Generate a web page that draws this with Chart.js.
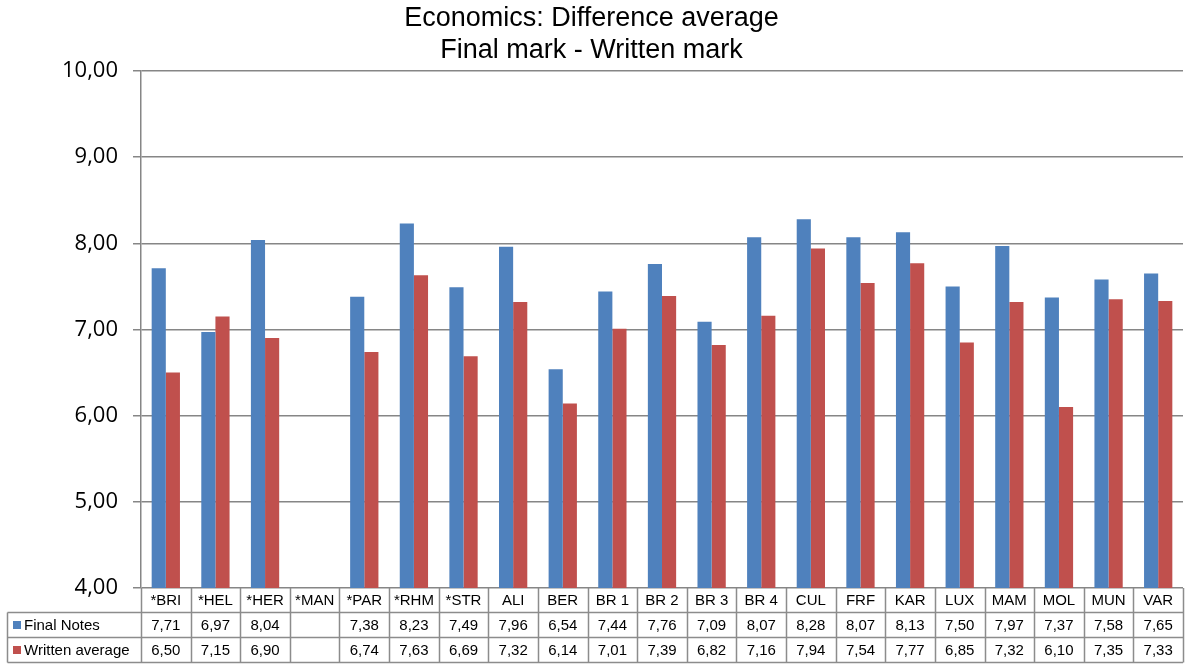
<!DOCTYPE html>
<html>
<head>
<meta charset="utf-8">
<script src="https://cdn.jsdelivr.net/npm/chart.js@4.4.1/dist/chart.umd.min.js"></script>
<style>
html,body{margin:0;padding:0;background:#fff;}
#wrap{width:1185px;height:665px;position:relative;}
</style>
</head>
<body>
<div id="wrap"><canvas id="c" width="1185" height="665"></canvas></div>
<script>
const categories = ["*BRI","*HEL","*HER","*MAN","*PAR","*RHM","*STR","ALI","BER","BR 1","BR 2","BR 3","BR 4","CUL","FRF","KAR","LUX","MAM","MOL","MUN","VAR"];
const finalNotes = [7.71,6.97,8.04,null,7.38,8.23,7.49,7.96,6.54,7.44,7.76,7.09,8.07,8.28,8.07,8.13,7.50,7.97,7.37,7.58,7.65];
const writtenAverage = [6.50,7.15,6.90,null,6.74,7.63,6.69,7.32,6.14,7.01,7.39,6.82,7.16,7.94,7.54,7.77,6.85,7.32,6.10,7.35,7.33];
const seriesNames = ["Final Notes","Written average"];
const titleLines = ["Economics: Difference average","Final mark - Written mark"];

const BLUE = "#4F81BD", RED = "#C0504D", GRID = "#868686";
const fmt = v => v == null ? "" : v.toFixed(2).replace(".", ",");

const tablePlugin = {
  id: "dataTable",
  afterDraw(chart) {
    const ctx = chart.ctx;
    const x = chart.scales.x;
    const area = chart.chartArea;
    const n = categories.length;
    const left = area.left, right = area.right;
    const colW = (right - left) / n;
    const y0 = area.bottom, y1 = 612.5, y2 = 637.5, y3 = 662.5;
    const tableLeft = 7.5;
    ctx.save();
    ctx.strokeStyle = "#8c8c8c";
    ctx.lineWidth = 1.5;
    ctx.beginPath();
    ctx.moveTo(tableLeft, y1); ctx.lineTo(right, y1);
    ctx.moveTo(tableLeft, y2); ctx.lineTo(right, y2);
    ctx.moveTo(tableLeft, y3); ctx.lineTo(right, y3);
    ctx.moveTo(tableLeft, y1); ctx.lineTo(tableLeft, y3);
    for (let i = 0; i <= n; i++) {
      const xx = Math.round(left + i * colW) + 0.5;
      ctx.moveTo(xx, y0); ctx.lineTo(xx, y3);
    }
    ctx.stroke();
    ctx.fillStyle = "#000";
    ctx.font = "15px 'Liberation Sans', Arial, sans-serif";
    ctx.textAlign = "center";
    ctx.textBaseline = "middle";
    for (let i = 0; i < n; i++) {
      const cx = x.getPixelForValue(i);
      ctx.fillText(categories[i], cx, (y0 + y1) / 2 + 1);
      ctx.fillText(fmt(finalNotes[i]), cx, (y1 + y2) / 2 + 1);
      ctx.fillText(fmt(writtenAverage[i]), cx, (y2 + y3) / 2 + 1);
    }
    ctx.textAlign = "left";
    const keys = [[BLUE, seriesNames[0], (y1 + y2) / 2], [RED, seriesNames[1], (y2 + y3) / 2]];
    keys.forEach(([col, label, cy]) => {
      ctx.fillStyle = col;
      ctx.fillRect(13, cy - 4, 8, 8);
      ctx.fillStyle = "#000";
      ctx.fillText(label, 24, cy + 1);
    });
    ctx.restore();
  }
};

new Chart(document.getElementById("c"), {
  type: "bar",
  data: {
    labels: categories,
    datasets: [
      { label: seriesNames[0], data: finalNotes, backgroundColor: BLUE, borderWidth: 0, categoryPercentage: 0.57, barPercentage: 1.0 },
      { label: seriesNames[1], data: writtenAverage, backgroundColor: RED, borderWidth: 0, categoryPercentage: 0.57, barPercentage: 1.0 }
    ]
  },
  options: {
    responsive: false,
    animation: false,
    events: [],
    layout: { padding: { left: 0, right: 2, top: 0, bottom: 77 } },
    plugins: {
      legend: { display: false },
      tooltip: { enabled: false },
      title: {
        display: true,
        text: titleLines,
        color: "#000",
        font: { family: "'Liberation Sans', Arial, sans-serif", size: 27, weight: "normal", lineHeight: "32px" },
        padding: { top: 3, bottom: 4 }
      }
    },
    scales: {
      x: {
        display: false,
        offset: true,
        grid: { display: false }
      },
      y: {
        min: 4, max: 10,
        afterFit(scale) { scale.width = 141; },
        ticks: {
          stepSize: 1,
          color: "#000",
          padding: 15,
          font: { family: "'Open Sans', 'Noto Sans', sans-serif", size: 22 },
          callback: v => fmt(v)
        },
        grid: { color: GRID, lineWidth: 1.5, tickLength: 8, drawTicks: true },
        border: { color: GRID, width: 1.5 }
      }
    }
  },
  plugins: [tablePlugin]
});
</script>
</body>
</html>
